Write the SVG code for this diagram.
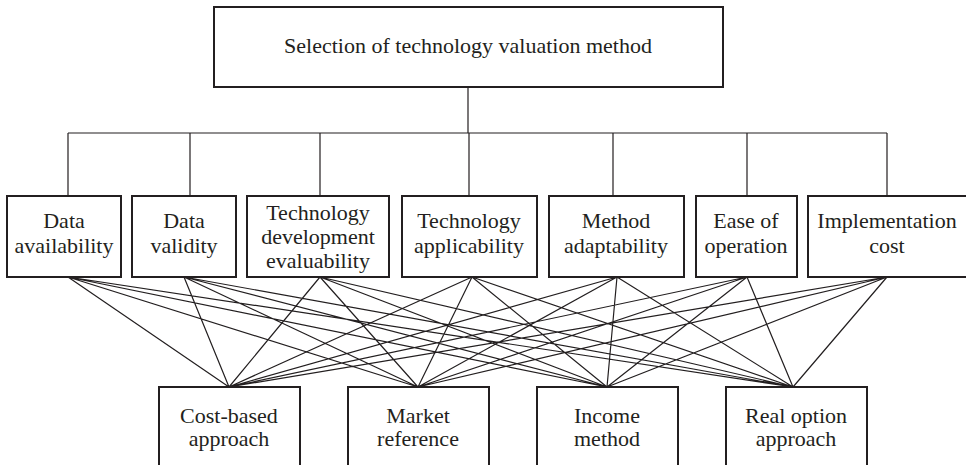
<svg xmlns="http://www.w3.org/2000/svg" width="966" height="465" viewBox="0 0 966 465">
<style>
.box{fill:#fff;stroke:#231f20;stroke-width:2}
.ln{stroke:#231f20;stroke-width:1.2;fill:none}
.t{font-family:'Liberation Serif','DejaVu Serif',serif;font-size:22px;fill:#231f20;text-anchor:middle}
</style>
<rect width="966" height="465" fill="#fff"/>
<g id="connectors">
<path class="ln" d="M468 87V133M68 133H887M68 133V196M190 133V196M320 133V196M469 133V196M613 133V196M747 133V196M887 133V196"/>
<path class="ln" d="M68 277L229 387M68 277L418 387M68 277L607 387M68 277L793 387
M184 277L229 387M184 277L418 387M184 277L607 387M184 277L793 387
M320 277L229 387M320 277L418 387M320 277L607 387M320 277L793 387
M472 277L229 387M472 277L418 387M472 277L607 387M472 277L793 387
M617 277L229 387M617 277L418 387M617 277L607 387M617 277L793 387
M747 277L229 387M747 277L418 387M747 277L607 387M747 277L793 387
M887 277L229 387M887 277L418 387M887 277L607 387M887 277L793 387"/>
</g>
<g id="top" class="t"><rect class="box" x="214" y="7" width="509" height="80"/><text x="468" y="53">Selection of technology valuation method</text></g>
<g id="c1" class="t"><rect class="box" x="7" y="196" width="114" height="81"/><text x="64" y="228">Data</text><text x="64" y="253">availability</text></g>
<g id="c2" class="t"><rect class="box" x="132" y="196" width="104" height="81"/><text x="184" y="228">Data</text><text x="184" y="253">validity</text></g>
<g id="c3" class="t"><rect class="box" x="247" y="196" width="142" height="81"/><text x="318" y="220">Technology</text><text x="318" y="244">development</text><text x="318" y="268">evaluability</text></g>
<g id="c4" class="t"><rect class="box" x="402" y="196" width="135" height="81"/><text x="469" y="228">Technology</text><text x="469" y="253">applicability</text></g>
<g id="c5" class="t"><rect class="box" x="549" y="196" width="135" height="81"/><text x="616" y="228">Method</text><text x="616" y="253">adaptability</text></g>
<g id="c6" class="t"><rect class="box" x="696" y="196" width="101" height="81"/><text x="746" y="228">Ease of</text><text x="746" y="253">operation</text></g>
<g id="c7" class="t"><rect class="box" x="808" y="196" width="162" height="81"/><text x="887" y="228">Implementation</text><text x="887" y="253">cost</text></g>
<g id="a1" class="t"><rect class="box" x="159" y="387" width="141" height="90"/><text x="229" y="423">Cost-based</text><text x="229" y="446">approach</text></g>
<g id="a2" class="t"><rect class="box" x="348" y="387" width="141" height="90"/><text x="418" y="423">Market</text><text x="418" y="446">reference</text></g>
<g id="a3" class="t"><rect class="box" x="537" y="387" width="141" height="90"/><text x="607" y="423">Income</text><text x="607" y="446">method</text></g>
<g id="a4" class="t"><rect class="box" x="726" y="387" width="141" height="90"/><text x="796" y="423">Real option</text><text x="796" y="446">approach</text></g>
</svg>
